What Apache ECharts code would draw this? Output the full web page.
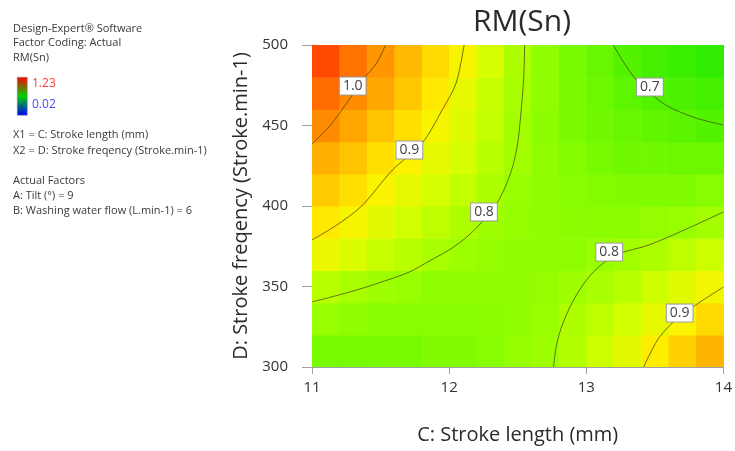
<!DOCTYPE html>
<html>
<head>
<meta charset="utf-8">
<script src="https://cdn.jsdelivr.net/npm/echarts@6/dist/echarts.min.js"></script>
<style>html,body{margin:0;padding:0;background:#fff;}#c{width:735px;height:451px;}</style>
</head>
<body>
<div id="c"></div>
<script>
// ---- data ----
const xCenters = [11.1, 11.3, 11.5, 11.7, 11.9, 12.1, 12.3, 12.5, 12.7, 12.9, 13.1, 13.3, 13.5, 13.7, 13.9];
const yCenters = [310, 330, 350, 370, 390, 410, 430, 450, 470, 490];
// RM(Sn) estimated at cell centres, one row per yCenters entry
const rm310 = [0.75, 0.75, 0.75, 0.75, 0.76, 0.76, 0.77, 0.785, 0.795, 0.815, 0.84, 0.865, 0.905, 0.935, 0.965];
const rm330 = [0.79, 0.78, 0.77, 0.77, 0.77, 0.77, 0.775, 0.78, 0.79, 0.81, 0.825, 0.845, 0.87, 0.895, 0.925];
const rm350 = [0.82, 0.805, 0.795, 0.79, 0.78, 0.78, 0.78, 0.78, 0.785, 0.795, 0.805, 0.82, 0.84, 0.86, 0.885];
const rm370 = [0.875, 0.855, 0.835, 0.82, 0.805, 0.795, 0.785, 0.78, 0.78, 0.78, 0.79, 0.80, 0.81, 0.825, 0.84];
const rm390 = [0.91, 0.89, 0.865, 0.845, 0.825, 0.81, 0.795, 0.785, 0.78, 0.775, 0.775, 0.775, 0.785, 0.79, 0.80];
const rm410 = [0.94, 0.92, 0.895, 0.87, 0.85, 0.83, 0.81, 0.79, 0.78, 0.77, 0.765, 0.76, 0.76, 0.76, 0.77];
const rm430 = [0.97, 0.95, 0.92, 0.90, 0.87, 0.85, 0.82, 0.80, 0.78, 0.765, 0.75, 0.74, 0.74, 0.735, 0.735];
const rm450 = [1.01, 0.98, 0.95, 0.92, 0.89, 0.86, 0.83, 0.80, 0.775, 0.755, 0.74, 0.73, 0.72, 0.71, 0.70];
const rm470 = [1.06, 1.01, 0.98, 0.945, 0.91, 0.87, 0.835, 0.805, 0.78, 0.755, 0.735, 0.715, 0.70, 0.69, 0.68];
const rm490 = [1.12, 1.05, 1.00, 0.96, 0.925, 0.89, 0.85, 0.81, 0.78, 0.75, 0.73, 0.70, 0.68, 0.665, 0.65];
const rmRows = [rm310, rm330, rm350, rm370, rm390, rm410, rm430, rm450, rm470, rm490];

// contour lines [stroke length, stroke frequency]
const contour10 = [[11.536,500],[11.471,488.8],[11.370,478.3],[11.254,464.0],[11.130,449.7],[11.0,438.5]];
const contour09a = [[12.109,500],[12.051,476.4],[11.949,459.6],[11.804,439.1],[11.587,422.4],[11.362,400.0],[11.181,388.2],[11.0,378.9]];
const contour08a = [[12.551,500],[12.543,478.3],[12.522,456.5],[12.500,439.1],[12.465,425.0],[12.410,412.0],[12.341,400.6],[12.250,391.0],[12.145,382.0],[12.022,373.9],[11.855,365.8],[11.710,359.0],[11.529,353.4],[11.348,348.4],[11.167,344.1],[11.0,340.4]];
const contour07 = [[13.196,500],[13.290,487.0],[13.384,476.4],[13.580,462.7],[13.797,454.7],[14.0,450.3]];
const contour08b = [[14.0,396.3],[13.746,386.3],[13.457,375.8],[13.217,369.6],[13.051,359.0],[12.928,344.7],[12.833,327.95],[12.783,313.7],[12.761,300]];
const contour09b = [[14.0,349.7],[13.797,338.5],[13.674,331.1],[13.529,318.0],[13.435,303.1],[13.42,300]];
const contourLabels = [[11.297,474.5,'1.0'],[11.710,434.8,'0.9'],[12.254,396.3,'0.8'],[13.464,473.9,'0.7'],[13.167,371.4,'0.8'],[13.681,333.5,'0.9']];

const xTicks = [11, 12, 13, 14];
const yTicks = [300, 350, 400, 450, 500];
const rmMin = 0.02, rmMax = 1.23;

// ---- build ----
const cells = [];
rmRows.forEach((row, j) => row.forEach((v, i) => cells.push([xCenters[i], yCenters[j], v])));
const dx = xCenters[1] - xCenters[0];
const dy = yCenters[1] - yCenters[0];

const FONT = 'Open Sans';
const lineStyle = {color: 'rgba(70,70,20,0.75)', width: 1};
function contourSeries(d) {
  return {type: 'line', data: d, smooth: 0.3, showSymbol: false, symbol: 'none',
    lineStyle: lineStyle, z: 5, silent: true, animation: false, clip: true};
}

const chart = echarts.init(document.getElementById('c'), null, {renderer: 'canvas'});
const leftText = [
  ['Design-Expert® Software', 31], ['Factor Coding: Actual', 45], ['RM(Sn)', 60],
  ['X1 = C: Stroke length (mm)', 137], ['X2 = D: Stroke freqency (Stroke.min-1)', 153],
  ['Actual Factors', 183], ['A: Tilt (°) = 9', 198], ['B: Washing water flow (L.min-1) = 6', 213]
];
const graphics = leftText.map(t => ({type: 'text', left: 13, top: t[1] - 8,
  style: {text: t[0], fill: '#3a3a3a', font: '11px "' + FONT + '"'}}));
graphics.push({type: 'rect', left: 17, top: 77, shape: {width: 10, height: 38},
  style: {fill: new echarts.graphic.LinearGradient(0, 0, 0, 1, [
    {offset: 0, color: '#ff0000'}, {offset: 0.5, color: '#00d000'}, {offset: 1, color: '#0000ff'}]),
    stroke: '#888', lineWidth: 0.5}});
graphics.push({type: 'text', left: 32, top: 78, style: {text: String(rmMax), fill: '#ff3b3b', font: '12px "' + FONT + '"'}});
graphics.push({type: 'text', left: 32, top: 99, style: {text: String(rmMin), fill: '#4a4aff', font: '12px "' + FONT + '"'}});

chart.setOption({
  animation: false,
  backgroundColor: '#ffffff',
  title: {text: 'RM(Sn)', left: 517, top: 2, textAlign: 'center',
    textStyle: {fontFamily: FONT, fontSize: 30, fontWeight: 'normal', color: '#2a2a2a'}},
  grid: {left: 312, top: 45, width: 414, height: 322, show: false},
  visualMap: {show: false, type: 'continuous', min: rmMin, max: rmMax, dimension: 2, seriesIndex: 0,
    inRange: {color: ['#0000ff','#0020ff','#0040ff','#0060ff','#0080ff','#00a0ff','#00c0ff','#00e0e0','#00f0a0','#00f060','#00ee20','#1ee800','#44f000','#6cf800','#98ff00','#d2ff00','#fff200','#ffbe00','#ff8c00','#ff6a00','#ff4a00','#ff2a00','#ff0000']}},
  graphic: graphics,
  xAxis: [{type: 'value', min: xTicks[0], max: xTicks[xTicks.length - 1], interval: xTicks[1] - xTicks[0],
    name: 'C: Stroke length (mm)', nameLocation: 'middle', nameGap: 58,
    nameTextStyle: {fontFamily: FONT, fontSize: 20, color: '#2a2a2a'},
    axisLine: {show: true, lineStyle: {color: '#a0a0a0'}},
    axisTick: {show: true, length: 7, lineStyle: {color: '#a0a0a0'}},
    axisLabel: {fontFamily: FONT, fontSize: 15, color: '#333', margin: 13},
    splitLine: {show: false}},
    {type: 'value', position: 'top', min: xTicks[0], max: xTicks[xTicks.length - 1],
    axisLine: {show: true, lineStyle: {color: '#d0d0d0'}}, axisTick: {show: false}, axisLabel: {show: false}, splitLine: {show: false}}],
  yAxis: [{type: 'value', min: yTicks[0], max: yTicks[yTicks.length - 1], interval: yTicks[1] - yTicks[0],
    name: 'D: Stroke freqency (Stroke.min-1)', nameLocation: 'middle', nameGap: 58,
    nameTextStyle: {fontFamily: FONT, fontSize: 20, color: '#2a2a2a'},
    axisLine: {show: true, lineStyle: {color: '#a0a0a0'}},
    axisTick: {show: true, length: 10, lineStyle: {color: '#a0a0a0'}},
    axisLabel: {fontFamily: FONT, fontSize: 15, color: '#333', margin: 24},
    splitLine: {show: false}},
    {type: 'value', position: 'right', min: yTicks[0], max: yTicks[yTicks.length - 1],
    axisLine: {show: true, lineStyle: {color: '#d0d0d0'}}, axisTick: {show: false}, axisLabel: {show: false}, splitLine: {show: false}}],
  series: [
    {type: 'custom', data: cells, encode: {x: 0, y: 1}, clip: true, z: 1, silent: true,
      renderItem: function (params, api) {
        const x = api.value(0), y = api.value(1);
        const p0 = api.coord([x - dx / 2, y + dy / 2]);
        const p1 = api.coord([x + dx / 2, y - dy / 2]);
        return {type: 'rect', shape: {x: p0[0], y: p0[1], width: p1[0] - p0[0] + 0.6, height: p1[1] - p0[1] + 0.6},
          style: {fill: api.visual('color')}};
      }},
    contourSeries(contour10), contourSeries(contour09a), contourSeries(contour08a),
    contourSeries(contour07), contourSeries(contour08b), contourSeries(contour09b),
    {type: 'scatter', data: contourLabels, symbol: 'rect', symbolSize: 1,
      itemStyle: {color: 'rgba(255,255,255,0)', opacity: 1}, z: 10, silent: true,
      label: {show: true, position: 'inside', formatter: p => p.value[2],
        fontFamily: FONT, fontSize: 14, color: '#444', backgroundColor: '#ffffff',
        borderColor: '#9a9a9a', borderWidth: 1, padding: [2, 3, 1, 3]}}
  ]
});
</script>
</body>
</html>
